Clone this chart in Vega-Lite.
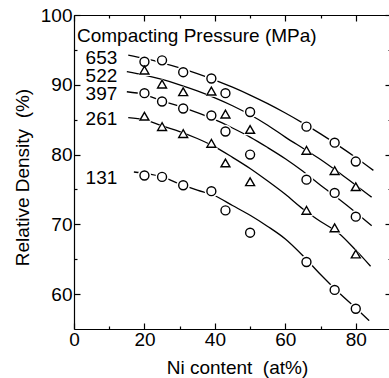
{
  "$schema": "https://vega.github.io/schema/vega-lite/v6.json",
  "width": 317,
  "height": 314,
  "autosize": {"type": "none"},
  "padding": {"left": 74, "top": 15, "right": 0, "bottom": 49},
  "background": "white",
  "config": {
    "view": {"stroke": null},
    "font": "Liberation Sans",
    "axis": {
      "grid": false,
      "domainColor": "black",
      "domainWidth": 1.2,
      "tickColor": "black",
      "tickWidth": 1.2,
      "labelColor": "black",
      "titleColor": "black",
      "labelFont": "Liberation Sans",
      "titleFont": "Liberation Sans",
      "labelFontSize": 19,
      "titleFontSize": 19,
      "titleFontWeight": "normal"
    }
  },
  "datasets": {
    "points": [
      {"series": "653", "ni": 20, "density": 93.3},
      {"series": "653", "ni": 25, "density": 93.5},
      {"series": "653", "ni": 31, "density": 91.8},
      {"series": "653", "ni": 39, "density": 90.9},
      {"series": "653", "ni": 43, "density": 88.8},
      {"series": "653", "ni": 50, "density": 86.1},
      {"series": "653", "ni": 66, "density": 84.0},
      {"series": "653", "ni": 74, "density": 81.7},
      {"series": "653", "ni": 80, "density": 79.0},
      {"series": "522", "ni": 20, "density": 92.1},
      {"series": "522", "ni": 25, "density": 90.1},
      {"series": "522", "ni": 31, "density": 89.0},
      {"series": "522", "ni": 39, "density": 89.1},
      {"series": "522", "ni": 43, "density": 85.8},
      {"series": "522", "ni": 50, "density": 83.6},
      {"series": "522", "ni": 66, "density": 80.6},
      {"series": "522", "ni": 74, "density": 77.7},
      {"series": "522", "ni": 80, "density": 75.4},
      {"series": "397", "ni": 20, "density": 88.8},
      {"series": "397", "ni": 25, "density": 87.6},
      {"series": "397", "ni": 31, "density": 86.6},
      {"series": "397", "ni": 39, "density": 85.6},
      {"series": "397", "ni": 43, "density": 83.3},
      {"series": "397", "ni": 50, "density": 80.0},
      {"series": "397", "ni": 66, "density": 76.4},
      {"series": "397", "ni": 74, "density": 74.5},
      {"series": "397", "ni": 80, "density": 71.1},
      {"series": "261", "ni": 20, "density": 85.5},
      {"series": "261", "ni": 25, "density": 84.0},
      {"series": "261", "ni": 31, "density": 83.0},
      {"series": "261", "ni": 39, "density": 81.6},
      {"series": "261", "ni": 43, "density": 78.8},
      {"series": "261", "ni": 50, "density": 76.1},
      {"series": "261", "ni": 66, "density": 72.0},
      {"series": "261", "ni": 74, "density": 69.5},
      {"series": "261", "ni": 80, "density": 65.75},
      {"series": "131", "ni": 20, "density": 77.0},
      {"series": "131", "ni": 25, "density": 76.8},
      {"series": "131", "ni": 31, "density": 75.6},
      {"series": "131", "ni": 39, "density": 74.75},
      {"series": "131", "ni": 43, "density": 72.0},
      {"series": "131", "ni": 50, "density": 68.8},
      {"series": "131", "ni": 66, "density": 64.6},
      {"series": "131", "ni": 74, "density": 60.6},
      {"series": "131", "ni": 80, "density": 57.9}
    ],
    "curves": [
      {"series": "653", "ni": 15.4, "density": 94.25},
      {"series": "653", "ni": 20, "density": 93.77},
      {"series": "653", "ni": 25, "density": 93.15},
      {"series": "653", "ni": 30, "density": 92.43},
      {"series": "653", "ni": 35, "density": 91.61},
      {"series": "653", "ni": 40, "density": 90.68},
      {"series": "653", "ni": 45, "density": 89.65},
      {"series": "653", "ni": 50, "density": 88.52},
      {"series": "653", "ni": 55, "density": 87.29},
      {"series": "653", "ni": 60, "density": 85.95},
      {"series": "653", "ni": 65, "density": 84.51},
      {"series": "653", "ni": 70, "density": 82.97},
      {"series": "653", "ni": 75, "density": 81.32},
      {"series": "653", "ni": 80, "density": 79.58},
      {"series": "653", "ni": 85, "density": 77.73},
      {"series": "522", "ni": 15, "density": 91.9},
      {"series": "522", "ni": 20, "density": 91.39},
      {"series": "522", "ni": 25, "density": 90.76},
      {"series": "522", "ni": 30, "density": 90.0},
      {"series": "522", "ni": 35, "density": 89.13},
      {"series": "522", "ni": 40, "density": 88.13},
      {"series": "522", "ni": 45, "density": 87.0},
      {"series": "522", "ni": 50, "density": 85.7},
      {"series": "522", "ni": 55, "density": 84.2},
      {"series": "522", "ni": 60, "density": 82.5},
      {"series": "522", "ni": 65, "density": 80.9},
      {"series": "522", "ni": 70, "density": 79.3},
      {"series": "522", "ni": 75, "density": 77.5},
      {"series": "522", "ni": 80, "density": 75.6},
      {"series": "522", "ni": 84.5, "density": 73.9},
      {"series": "397", "ni": 15, "density": 89.0},
      {"series": "397", "ni": 20, "density": 88.6},
      {"series": "397", "ni": 25, "density": 87.7},
      {"series": "397", "ni": 30, "density": 86.9},
      {"series": "397", "ni": 35, "density": 86.0},
      {"series": "397", "ni": 40, "density": 85.0},
      {"series": "397", "ni": 45, "density": 83.8},
      {"series": "397", "ni": 50, "density": 82.5},
      {"series": "397", "ni": 55, "density": 81.0},
      {"series": "397", "ni": 60, "density": 79.4},
      {"series": "397", "ni": 65, "density": 77.6},
      {"series": "397", "ni": 70, "density": 75.6},
      {"series": "397", "ni": 75, "density": 73.7},
      {"series": "397", "ni": 80, "density": 71.7},
      {"series": "397", "ni": 84.5, "density": 69.8},
      {"series": "261", "ni": 15.4, "density": 85.3},
      {"series": "261", "ni": 20, "density": 85.0},
      {"series": "261", "ni": 25, "density": 84.1},
      {"series": "261", "ni": 30, "density": 83.3},
      {"series": "261", "ni": 35, "density": 82.3},
      {"series": "261", "ni": 40, "density": 81.1},
      {"series": "261", "ni": 45, "density": 79.6},
      {"series": "261", "ni": 50, "density": 78.0},
      {"series": "261", "ni": 55, "density": 76.2},
      {"series": "261", "ni": 60, "density": 74.3},
      {"series": "261", "ni": 65, "density": 72.2},
      {"series": "261", "ni": 70, "density": 70.4},
      {"series": "261", "ni": 75, "density": 68.8},
      {"series": "261", "ni": 80, "density": 66.3},
      {"series": "261", "ni": 84.2, "density": 64.0},
      {"series": "131", "ni": 17, "density": 77.5},
      {"series": "131", "ni": 20, "density": 77.3},
      {"series": "131", "ni": 25, "density": 76.8},
      {"series": "131", "ni": 30, "density": 75.8},
      {"series": "131", "ni": 35, "density": 74.9},
      {"series": "131", "ni": 40, "density": 74.1},
      {"series": "131", "ni": 45, "density": 72.7},
      {"series": "131", "ni": 50, "density": 71.3},
      {"series": "131", "ni": 55, "density": 69.7},
      {"series": "131", "ni": 60, "density": 67.9},
      {"series": "131", "ni": 65, "density": 65.5},
      {"series": "131", "ni": 70, "density": 62.8},
      {"series": "131", "ni": 75, "density": 60.3},
      {"series": "131", "ni": 80, "density": 58.0},
      {"series": "131", "ni": 83.8, "density": 56.2}
    ],
    "labels": [
      {"text": "653", "ni": 12.3, "density": 93.8},
      {"text": "522", "ni": 12.3, "density": 91.2},
      {"text": "397", "ni": 12.3, "density": 88.75},
      {"text": "261", "ni": 12.3, "density": 85.15},
      {"text": "131", "ni": 12.3, "density": 76.6}
    ],
    "heading": [
      {"text": "Compacting Pressure (MPa)", "ni": 0.85, "density": 97.0}
    ]
  },
  "resolve": {"axis": {"x": "independent", "y": "independent"}},
  "layer": [
    {
      "data": {"name": "curves"},
      "mark": {"type": "line", "color": "black", "strokeWidth": 1.3, "interpolate": "monotone"},
      "encoding": {
        "x": {
          "field": "ni", "type": "quantitative",
          "scale": {"domain": [0, 90], "nice": false, "zero": false},
          "axis": {
            "orient": "bottom",
            "title": "Ni content\u00a0 (at%)",
            "values": [0, 10, 20, 30, 40, 50, 60, 70, 80],
            "labelExpr": "datum.value % 20 === 0 ? datum.label : ''",
            "tickSize": {"condition": {"test": "datum.value % 20 === 0", "value": -6}, "value": -3},
            "labelPadding": 7,
            "labelFlush": false,
            "titleX": 163,
            "titleY": 44,
            "titleBaseline": "alphabetic"
          }
        },
        "y": {
          "field": "density", "type": "quantitative",
          "scale": {"domain": [55, 100], "nice": false, "zero": false},
          "axis": {
            "orient": "left",
            "title": "Relative Density\u00a0 (%)",
            "values": [60, 65, 70, 75, 80, 85, 90, 95, 100],
            "labelExpr": "datum.value % 10 === 0 ? datum.label : ''",
            "tickSize": {"condition": {"test": "datum.value % 10 === 0", "value": -6}, "value": -3},
            "labelPadding": 8,
            "labelFlush": false,
            "titleX": -46,
            "titleY": 162,
            "titleAngle": -90,
            "titleAlign": "center",
            "titleBaseline": "alphabetic"
          }
        },
        "detail": {"field": "series"}
      }
    },
    {
      "data": {"name": "points"},
      "mark": {"type": "point", "filled": true, "color": "white", "opacity": 1, "size": 180},
      "encoding": {
        "x": {
          "field": "ni", "type": "quantitative",
          "axis": {
            "orient": "top", "title": null, "labels": false,
            "values": [0, 10, 20, 30, 40, 50, 60, 70, 80],
            "tickSize": {"condition": {"test": "datum.value % 20 === 0", "value": -6}, "value": -3}
          }
        },
        "y": {
          "field": "density", "type": "quantitative",
          "axis": {
            "orient": "right", "title": null, "labels": false,
            "values": [60, 65, 70, 75, 80, 85, 90, 95, 100],
            "tickSize": {"condition": {"test": "datum.value % 10 === 0", "value": -6}, "value": -3}
          }
        },
        "shape": {
          "field": "series", "type": "nominal",
          "scale": {"domain": ["653", "522", "397", "261", "131"], "range": ["circle", "triangle-up", "circle", "triangle-up", "circle"]},
          "legend": null
        }
      }
    },
    {
      "data": {"name": "points"},
      "mark": {"type": "point", "filled": false, "fill": "white", "fillOpacity": 1, "stroke": "black", "strokeWidth": 1.4, "opacity": 1, "size": 80},
      "encoding": {
        "x": {"field": "ni", "type": "quantitative", "axis": null},
        "y": {"field": "density", "type": "quantitative", "axis": null},
        "shape": {
          "field": "series", "type": "nominal",
          "scale": {"domain": ["653", "522", "397", "261", "131"], "range": ["circle", "triangle-up", "circle", "triangle-up", "circle"]},
          "legend": null
        }
      }
    },
    {
      "data": {"name": "labels"},
      "mark": {"type": "text", "align": "right", "baseline": "middle", "fontSize": 19, "font": "Liberation Sans", "color": "black"},
      "encoding": {
        "x": {"field": "ni", "type": "quantitative", "axis": null},
        "y": {"field": "density", "type": "quantitative", "axis": null},
        "text": {"field": "text"}
      }
    },
    {
      "data": {"name": "heading"},
      "mark": {"type": "text", "align": "left", "baseline": "middle", "fontSize": 19, "font": "Liberation Sans", "color": "black"},
      "encoding": {
        "x": {"field": "ni", "type": "quantitative", "axis": null},
        "y": {"field": "density", "type": "quantitative", "axis": null},
        "text": {"field": "text"}
      }
    }
  ]
}
